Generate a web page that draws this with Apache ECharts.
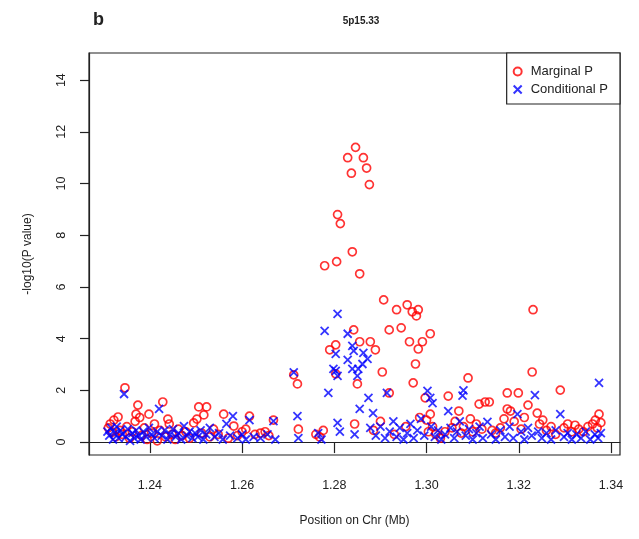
<!DOCTYPE html>
<html><head><meta charset="utf-8">
<script src="https://cdn.jsdelivr.net/npm/echarts@6/dist/echarts.min.js"></script>
<style>html,body{margin:0;padding:0;background:#fff}#c{width:639px;height:539px}</style>
</head><body><div id="c"></div>
<script>
// Marginal P (red circles)
const marginalPos = [
1.2310,1.2314,1.2318,1.2322,1.2326,1.2331,1.2335,1.2340,1.2346,1.2350,
1.2356,1.2362,1.2368,1.2370,1.2374,1.2378,1.2382,1.2388,1.2394,1.2398,
1.2404,1.2410,1.2416,1.2422,1.2428,1.2434,1.2439,1.2442,1.2448,1.2455,
1.2462,1.2470,1.2478,1.2486,1.2495,1.2502,1.2506,1.2512,1.2517,1.2523,
1.2530,1.2538,1.2548,1.2560,1.2570,1.2582,1.2590,1.2600,1.2608,1.2616,
1.2628,1.2640,1.2650,1.2658,1.2668,1.2712,1.2720,1.2722,1.2760,1.2768,
1.2776,1.2779,1.2790,1.2803,1.2803,1.2805,1.2807,1.2813,1.2844,1.2829,
1.2837,1.2839,1.2842,1.2846,1.2850,1.2855,1.2855,1.2863,1.2870,1.2876,
1.2878,1.2889,1.2904,1.2907,1.2919,1.2919,1.2935,1.2945,1.2958,1.2963,
1.2969,1.2971,1.2976,1.2978,1.2982,1.2982,1.2991,1.2997,1.3008,1.3008,
1.2885,1.2900,1.2930,1.2955,1.2985,1.3000,1.3004,
1.3013,1.3020,1.3030,1.3040,1.3047,1.3055,1.3062,1.3070,1.3075,1.3080,
1.3090,1.3095,1.3100,1.3108,1.3114,1.3120,1.3127,1.3136,1.3142,1.3150,
1.3160,1.3168,1.3175,1.3175,1.3182,1.3190,1.3199,1.3205,1.3212,1.3220,
1.3229,1.3231,1.3240,1.3245,1.3252,1.3260,1.3270,1.3280,1.3290,1.3298,
1.3306,1.3315,1.3322,1.3330,1.3340,1.3350,1.3360,1.3366,1.3370,1.3374,1.3378
];
const marginalP = [
0.55,0.70,0.38,0.85,0.20,0.97,0.45,0.30,2.10,0.60,
0.15,0.40,0.80,1.08,1.43,0.95,0.25,0.55,0.10,1.08,
0.35,0.70,0.05,0.45,1.55,0.20,0.89,0.70,0.30,0.10,
0.50,0.25,0.40,0.15,0.74,0.89,1.36,0.35,1.05,1.36,
0.20,0.50,0.30,1.08,0.15,0.62,0.25,0.40,0.50,1.00,
0.30,0.35,0.40,0.25,0.85,2.60,2.25,0.50,0.30,0.20,
0.45,6.82,3.57,3.76,2.64,6.98,8.80,8.45,0.70,11.0,
10.4,7.36,4.34,11.4,2.25,6.51,3.88,11.0,10.6,9.96,
3.88,3.57,2.71,5.50,4.34,1.90,5.12,4.42,5.31,3.88,
5.04,2.29,3.02,4.88,5.12,3.60,3.88,1.71,4.19,1.08,
0.45,0.80,0.30,0.60,0.95,0.85,0.40,
0.60,0.30,0.15,0.40,1.78,0.55,0.80,1.20,0.35,0.60,
2.48,0.90,0.40,0.70,1.47,0.50,1.55,1.55,0.45,0.35,
0.55,0.90,1.90,1.28,1.20,0.80,1.90,0.50,0.95,1.43,
2.71,5.12,1.12,0.70,0.85,0.45,0.60,0.30,2.01,0.55,
0.70,0.40,0.65,0.50,0.40,0.60,0.70,0.85,0.55,1.08,0.75
];
// Conditional P (blue crosses)
const conditionalPos = [
1.2308,1.2312,1.2316,1.2320,1.2324,1.2328,1.2332,1.2336,1.2340,1.2344,
1.2348,1.2352,1.2357,1.2362,1.2366,1.2370,1.2376,1.2380,1.2386,1.2392,
1.2398,1.2404,1.2410,1.2416,1.2420,1.2426,1.2432,1.2438,1.2444,1.2450,
1.2456,1.2462,1.2468,1.2474,1.2480,1.2486,1.2492,1.2498,1.2504,1.2510,
1.2516,1.2522,1.2530,1.2540,1.2550,1.2558,1.2566,1.2574,1.2580,1.2590,
1.2600,1.2608,1.2616,1.2625,1.2640,1.2655,1.2668,1.2672,1.2712,1.2720,
1.2722,1.2765,1.2772,
1.2779,1.2787,1.2798,1.2803,1.2803,1.2807,1.2807,1.2807,1.2812,1.2829,
1.2829,1.2839,1.2839,1.2842,1.2844,1.2850,1.2852,1.2855,1.2861,1.2863,
1.2872,1.2874,1.2878,1.2884,1.2890,1.2900,1.2910,1.2914,1.2920,1.2928,
1.2935,1.2942,1.2950,1.2958,1.2965,1.2972,1.2980,1.2988,1.2995,1.3002,
1.3008,1.3013,1.3010,
1.3018,1.3025,1.3032,1.3040,1.3047,1.3052,1.3060,1.3066,1.3072,1.3078,
1.3080,1.3085,1.3092,1.3100,1.3108,1.3115,1.3122,1.3132,1.3140,1.3150,
1.3160,1.3170,1.3180,1.3188,1.3197,1.3205,1.3212,1.3220,1.3228,1.3235,
1.3242,1.3250,1.3260,1.3270,1.3280,1.3290,1.3298,1.3306,1.3315,1.3325,
1.3335,1.3345,1.3355,1.3365,1.3372,1.3374,1.3378
];
const conditionalP = [
0.40,0.25,0.55,0.10,0.35,0.60,0.15,0.45,0.30,1.86,
0.20,0.50,0.05,0.35,0.15,0.45,0.25,0.10,0.40,0.20,
0.55,0.30,0.15,0.40,1.28,0.25,0.45,0.10,0.30,0.50,
0.20,0.35,0.10,0.62,0.25,0.40,0.15,0.35,0.20,0.45,
0.10,0.30,0.55,0.20,0.35,0.10,0.70,0.25,1.00,0.15,
0.30,0.10,0.85,0.20,0.15,0.30,0.81,0.10,2.70,1.00,
0.15,0.35,0.10,
4.30,1.90,2.83,3.41,2.75,4.96,2.56,0.74,0.40,4.19,
3.18,3.72,2.83,3.53,0.30,2.56,2.83,1.28,3.02,3.45,
3.22,1.71,0.55,1.12,0.25,0.60,0.15,1.90,0.40,0.80,
0.20,0.55,0.10,0.35,0.70,0.15,0.45,0.90,0.25,1.98,
1.71,1.51,0.60,
0.20,0.45,0.10,0.30,1.20,0.55,0.15,0.40,0.80,1.80,
2.00,0.25,0.50,0.10,0.35,0.60,0.15,0.78,0.30,0.10,
0.45,0.20,0.60,0.15,1.08,0.40,0.10,0.55,0.25,1.82,
0.40,0.15,0.35,0.10,0.45,1.08,0.20,0.35,0.10,0.30,
0.15,0.40,0.10,0.30,0.15,2.29,0.35
];
const xTicks = [1.24, 1.26, 1.28, 1.30, 1.32, 1.34];
const yTicks = [0, 2, 4, 6, 8, 10, 12, 14];

const zip = (a, b) => a.map((v, i) => [v, b[i]]);
const FONT = '"Liberation Sans", Arial, sans-serif';
const chart = echarts.init(document.getElementById('c'), null, {renderer: 'canvas'});
chart.setOption({
  animation: false,
  backgroundColor: '#fff',
  textStyle: {fontFamily: FONT},
  title: [
    {text: 'b', left: 88, top: 6, textStyle: {fontSize: 18, fontWeight: 'bold', color: '#222', fontFamily: FONT}},
    {text: '5p15.33', left: 356, textAlign: 'center', top: 11, textStyle: {fontSize: 10, fontWeight: 'bold', color: '#222', fontFamily: FONT}}
  ],
  legend: {
    orient: 'vertical', right: 19, top: 53,
    padding: [12, 12, 8, 6], itemGap: 5, itemWidth: 16, itemHeight: 8,
    borderColor: '#222', borderWidth: 1.2, backgroundColor: '#fff',
    textStyle: {fontSize: 13, color: '#222', fontFamily: FONT},
    data: ['Marginal P', 'Conditional P']
  },
  grid: {left: 89, right: 19, top: 53, bottom: 84, show: true, borderColor: '#222', borderWidth: 1.2, backgroundColor: 'transparent'},
  xAxis: {
    type: 'value', min: 1.2268, max: 1.34195,
    name: 'Position on Chr (Mb)', nameLocation: 'middle', nameGap: 60,
    nameTextStyle: {fontSize: 12, color: '#222', fontFamily: FONT},
    axisLine: {show: true, lineStyle: {color: '#222', width: 1.2}},
    axisTick: {show: true, inside: false, length: 11, customValues: xTicks, lineStyle: {color: '#222', width: 1.2}},
    axisLabel: {customValues: xTicks, margin: 24, fontSize: 12.5, color: '#222', fontFamily: FONT, formatter: v => v.toFixed(2)},
    splitLine: {show: false}
  },
  yAxis: {
    type: 'value', min: -0.5, max: 15.05,
    name: '-log10(P value)', nameLocation: 'middle', nameGap: 55,
    nameTextStyle: {fontSize: 12, color: '#222', fontFamily: FONT},
    axisLine: {show: true, lineStyle: {color: '#222', width: 1.2}},
    axisTick: {show: true, inside: false, length: 9, customValues: yTicks, lineStyle: {color: '#222', width: 1.2}},
    axisLabel: {customValues: yTicks, rotate: 90, margin: 21, fontSize: 12.5, color: '#222', fontFamily: FONT},
    splitLine: {show: false}
  },
  series: [
    {
      name: 'Marginal P', type: 'scatter', symbol: 'circle', symbolSize: 8,
      itemStyle: {color: 'rgba(255,255,255,0)', borderColor: '#ff0000', borderWidth: 1.7},
      emphasis: {disabled: true},
      data: zip(marginalPos, marginalP)
    },
    {
      name: 'Conditional P', type: 'scatter', symbol: 'path://M0,0L10,10M10,0L0,10', symbolSize: 8,
      itemStyle: {color: 'rgba(255,255,255,0)', borderColor: '#0000ff', borderWidth: 1.8},
      emphasis: {disabled: true},
      data: zip(conditionalPos, conditionalP)
    }
  ]
});
</script>
</body></html>
